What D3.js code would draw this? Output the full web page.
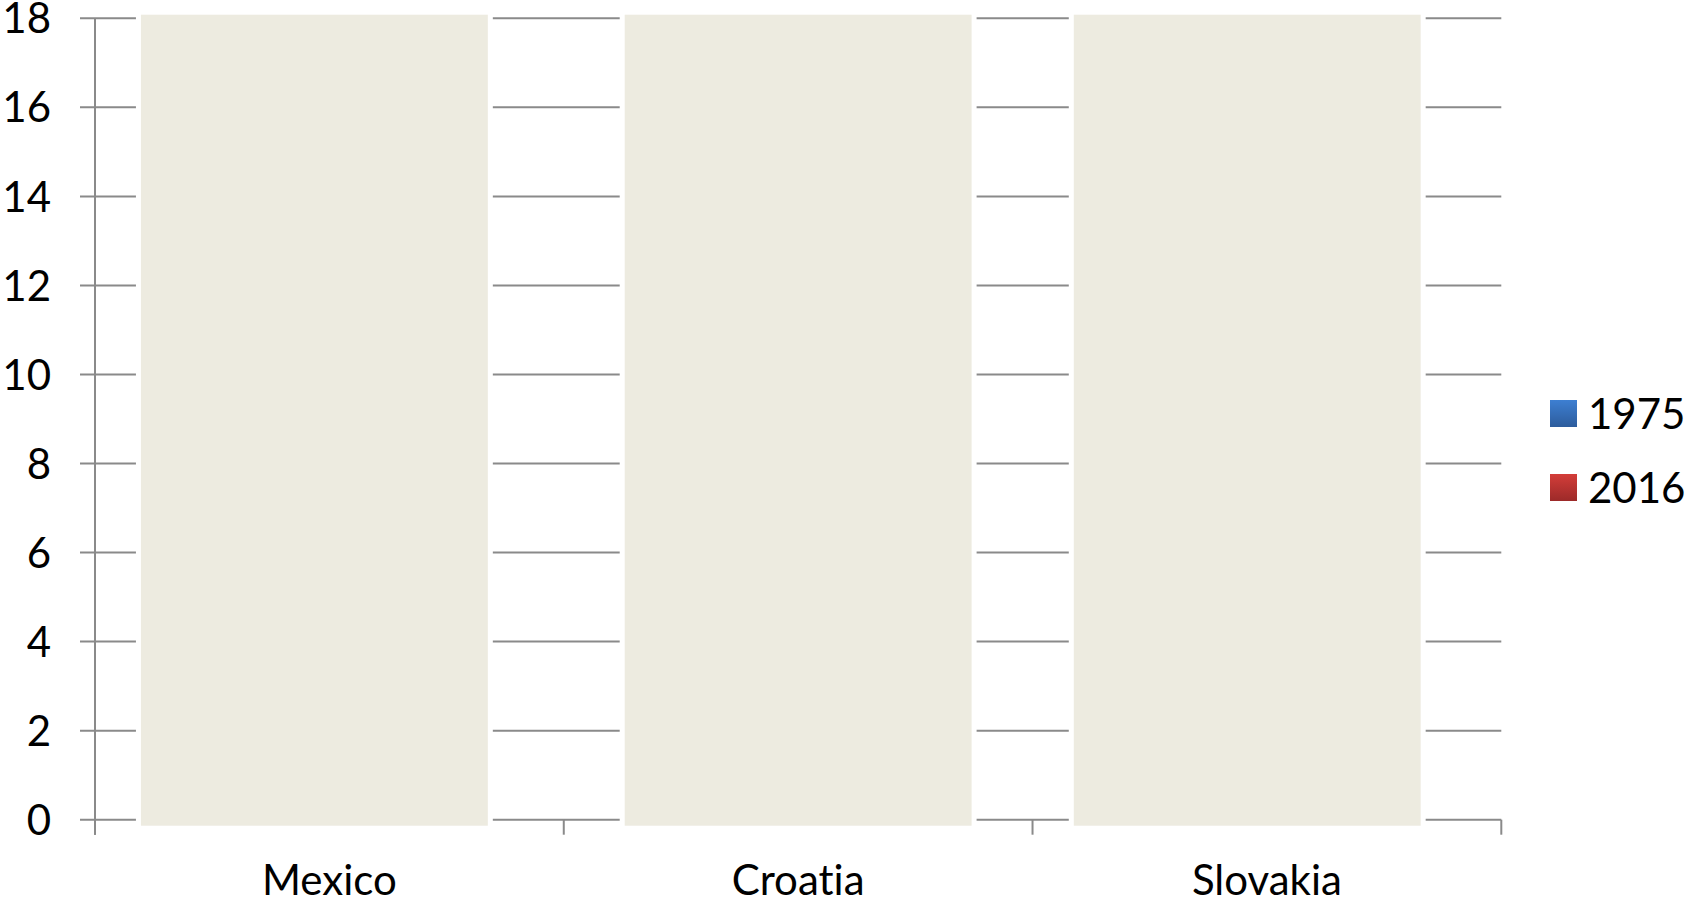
<!DOCTYPE html>
<html>
<head>
<meta charset="utf-8">
<script src="https://cdn.jsdelivr.net/npm/d3@7"></script>
<style>
  html, body { margin: 0; padding: 0; background: #ffffff; }
  text { font-family: Lato, "Noto Sans", sans-serif; fill: #000; font-variant-ligatures: none; font-feature-settings: "liga" 0, "clig" 0; }
</style>
</head>
<body>
<svg id="chart" width="1690" height="900"></svg>
<script>
// ---- data ----
const categories = ["Mexico", "Croatia", "Slovakia"];
const seriesNames = ["1975", "2016"];
const values1975 = [3.1, 8.4, 9.2];   // hidden behind the cover panels in the reference
const values2016 = [12.6, 15.7, 15.3];
const yTickValues = [0, 2, 4, 6, 8, 10, 12, 14, 16, 18];

// ---- layout ----
const W = 1690, H = 900;
const plot = { left: 95, right: 1501.3, top: 18.3, bottom: 819.7 };
const gridColor = "#8a8a8a";
const seriesTop = ["#3d7fd2", "#d33d39"];
const seriesBottom = ["#2d5c9c", "#9c2a29"];

const svg = d3.select("#chart");
const defs = svg.append("defs");
seriesNames.forEach((s, i) => {
  const g = defs.append("linearGradient").attr("id", "grad" + i)
    .attr("x1", 0).attr("y1", 0).attr("x2", 0).attr("y2", 1);
  g.append("stop").attr("offset", "0%").attr("stop-color", seriesTop[i]);
  g.append("stop").attr("offset", "100%").attr("stop-color", seriesBottom[i]);
});

const y = d3.scaleLinear().domain([0, 18]).range([plot.bottom, plot.top]);
const x = d3.scaleBand().domain(categories).range([plot.left, plot.right]).paddingInner(0).paddingOuter(0);
const xUnits = d3.scaleLinear().domain([0, categories.length]).range([plot.left, plot.right]);
const xSub = d3.scaleBand().domain(seriesNames).range([0, x.bandwidth()]).paddingInner(0).paddingOuter(0.6);

// gridlines (with left tick stubs)
svg.append("g").selectAll("line").data(yTickValues).join("line")
  .attr("x1", plot.left - 15).attr("x2", plot.right)
  .attr("y1", d => y(d)).attr("y2", d => y(d))
  .attr("stroke", gridColor).attr("stroke-width", 2);

// category axis ticks (below zero line)
const dividers = d3.range(categories.length + 1);
svg.append("g").selectAll("line").data(dividers).join("line")
  .attr("x1", d => xUnits(d)).attr("x2", d => xUnits(d))
  .attr("y1", y(0)).attr("y2", y(0) + 15)
  .attr("stroke", gridColor).attr("stroke-width", 2);

// value axis line
svg.append("line")
  .attr("x1", plot.left).attr("x2", plot.left)
  .attr("y1", y(18)).attr("y2", y(0) + 15)
  .attr("stroke", gridColor).attr("stroke-width", 2);

// bars
const seriesValues = [values1975, values2016];
const barData = [];
categories.forEach((c, ci) => seriesNames.forEach((s, si) =>
  barData.push({ c, s, si, v: seriesValues[si][ci] })));
svg.append("g").selectAll("rect").data(barData).join("rect")
  .attr("x", d => x(d.c) + xSub(d.s))
  .attr("width", xSub.bandwidth())
  .attr("y", d => y(d.v))
  .attr("height", d => y(0) - y(d.v))
  .attr("fill", d => "url(#grad" + d.si + ")");

// cover panels over each category (in category units / value units)
const coverFrom = [0.098, 1.130, 2.088];
const coverTo = [0.838, 1.870, 2.828];
const coverTop = 18.081, coverBottom = -0.135;
const covers = categories.map((c, i) => ({ a: coverFrom[i], b: coverTo[i] }));
const cg = svg.append("g");
cg.selectAll("rect.halo").data(covers).join("rect").attr("class", "halo")
  .attr("x", d => xUnits(d.a) - 5).attr("width", d => xUnits(d.b) - xUnits(d.a) + 10)
  .attr("y", y(coverTop) - 5).attr("height", y(coverBottom) - y(coverTop) + 10)
  .attr("fill", "#ffffff");
cg.selectAll("rect.panel").data(covers).join("rect").attr("class", "panel")
  .attr("x", d => xUnits(d.a)).attr("width", d => xUnits(d.b) - xUnits(d.a))
  .attr("y", y(coverTop)).attr("height", y(coverBottom) - y(coverTop))
  .attr("fill", "#edebe0");

// y tick labels
svg.append("g").selectAll("text").data(yTickValues).join("text")
  .attr("x", 51).attr("y", d => y(d))
  .attr("dy", "0.36em")
  .attr("text-anchor", "end")
  .style("font-size", "42px")
  .text(d => d);

// x labels
svg.append("g").selectAll("text").data(categories).join("text")
  .attr("x", d => x(d) + x.bandwidth() / 2).attr("y", 895)
  .attr("text-anchor", "middle")
  .style("font-size", "42px")
  .text(d => d);

// legend
const lg = svg.append("g");
const legendRowY = [413.5, 487.5];
seriesNames.forEach((s, i) => {
  lg.append("rect").attr("x", 1550).attr("y", legendRowY[i] - 13.5)
    .attr("width", 27).attr("height", 27).attr("fill", "url(#grad" + i + ")");
  lg.append("text").attr("x", 1588).attr("y", legendRowY[i] + 15)
    .style("font-size", "42px").text(s);
});
</script>
</body>
</html>
